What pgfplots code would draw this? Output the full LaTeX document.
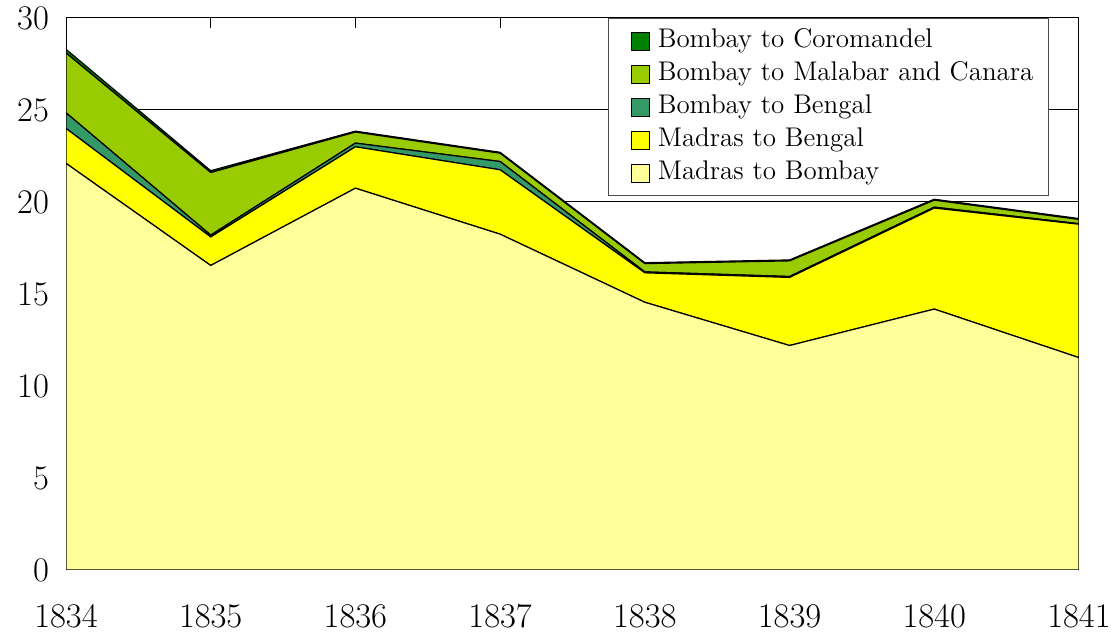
\documentclass[border=0pt]{standalone}
\usepackage{pgfplots}
\pgfplotsset{compat=1.18}
\definecolor{cMB}{HTML}{FFFF99}
\definecolor{cMBe}{HTML}{FFFF00}
\definecolor{cBBe}{HTML}{339966}
\definecolor{cBMC}{HTML}{99CC00}
\definecolor{cBC}{HTML}{008000}
\pgfplotsset{layers/mylayers/.define layer set={axis background,axis grid,pre main,main,axis ticks,axis lines,axis tick labels,axis descriptions,axis foreground}{}}
\begin{document}
\begin{tikzpicture}
\begin{axis}[
  set layers=mylayers,
  scale only axis, width=506.5pt, height=276pt,
  xmin=1834, xmax=1841, ymin=0, ymax=30,
  xtick={1834,1835,1836,1837,1838,1839,1840,1841},
  ytick={0,5,10,15,20,25,30},
  x tick label style={/pgf/number format/1000 sep={}, yshift=-14pt},
  y tick label style={xshift=-5pt},
  ticklabel style={font=\fontsize{17}{20}\selectfont},
  tick align=inside, major tick length=5pt,
  tick style={black, line width=0.5pt},
  ymajorgrids, grid style={black, line width=0.5pt},
  axis line style={black, line width=0.5pt},
  stack plots=y,
  every axis plot/.append style={draw=black, line width=0.6pt},
  area legend,
  reverse legend,
  legend cell align=left,
  legend image code/.code={\path (0pt,0pt); \draw[#1, draw=black, line width=0.4pt] (5pt,-4.5pt) rectangle (14pt,4.5pt); \path (16.5pt,0pt);},
  legend style={at={(0.9704,1)}, anchor=north east, draw=black!70, line width=0.5pt, fill=white,
    font=\fontsize{13.5}{16}\selectfont, row sep=0pt, inner xsep=6pt, inner ysep=3pt,
    nodes={inner sep=1.5pt, text height=10pt, text depth=3.5pt}},
]
\addplot[fill=cMB] coordinates {(1834,22.1) (1835,16.55) (1836,20.75) (1837,18.25) (1838,14.55) (1839,12.2) (1840,14.18) (1841,11.54)} \closedcycle;
\addlegendentry{Madras to Bombay}
\addplot[fill=cMBe] coordinates {(1834,1.9) (1835,1.55) (1836,2.25) (1837,3.5) (1838,1.6) (1839,3.7) (1840,5.49) (1841,7.25)} \closedcycle;
\addlegendentry{Madras to Bengal}
\addplot[fill=cBBe] coordinates {(1834,0.85) (1835,0.1) (1836,0.2) (1837,0.45) (1838,0.05) (1839,0.05) (1840,0.05) (1841,0.03)} \closedcycle;
\addlegendentry{Bombay to Bengal}
\addplot[fill=cBMC] coordinates {(1834,3.25) (1835,3.4) (1836,0.6) (1837,0.45) (1838,0.45) (1839,0.85) (1840,0.38) (1841,0.23)} \closedcycle;
\addlegendentry{Bombay to Malabar and Canara}
\addplot[fill=cBC] coordinates {(1834,0.2) (1835,0.1) (1836,0.05) (1837,0.05) (1838,0.05) (1839,0.05) (1840,0.05) (1841,0.05)} \closedcycle;
\addlegendentry{Bombay to Coromandel}
\end{axis}
\pgfresetboundingbox
\useasboundingbox (-33pt,-33pt) rectangle (525pt,285pt);
\end{tikzpicture}
\end{document}
